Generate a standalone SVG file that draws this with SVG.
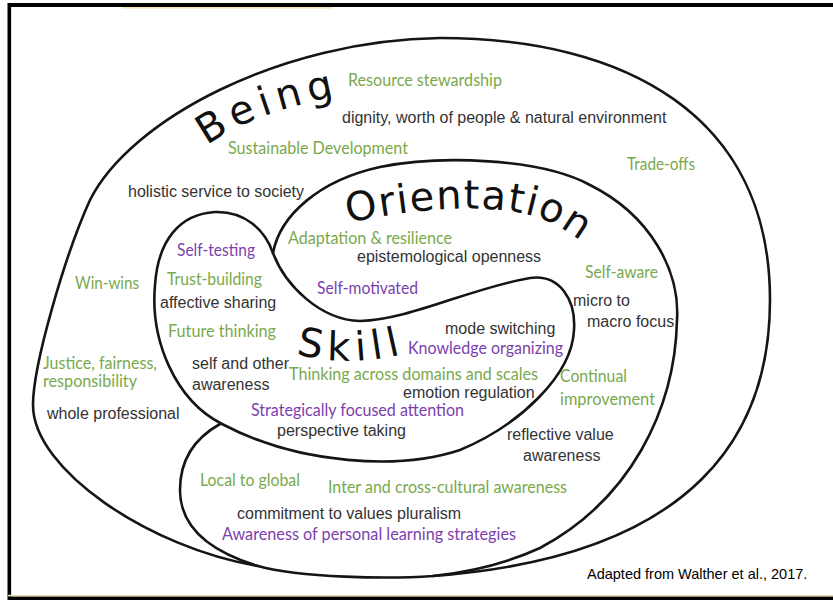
<svg xmlns="http://www.w3.org/2000/svg" width="833" height="600" viewBox="0 0 833 600">
<defs>
<style>
.ln{fill:none;stroke:#151515;stroke-width:2.6;stroke-linecap:round;stroke-linejoin:round}
.g{font-family:Lato,"Open Sans","Liberation Sans",sans-serif;font-size:17px;fill:#79a94c}
.p{font-family:Lato,"Open Sans","Liberation Sans",sans-serif;font-size:17px;fill:#7b3fad}
.d{font-family:"Liberation Sans",Arial,sans-serif;font-size:16px;fill:#333}
.big{font-family:"DejaVu Sans",sans-serif;font-size:40px;fill:#111}
</style>
<path id="pBeing" d="M 207,146 Q 250,112 350,94"/>
<path id="pOri" d="M 348,223 C 420,207 495,203 540,218 Q 565,227 600,256"/>
<path id="pSkill" d="M 296,354 Q 352,369 414,351"/>
</defs>
<rect x="0" y="0" width="833" height="600" fill="#fff"/>
<g id="frame">
<rect x="8" y="3" width="825" height="4" fill="#000"/>
<rect x="122" y="7" width="210" height="1.6" fill="#f3e6b4"/>
<rect x="7.5" y="3" width="3.6" height="597" fill="#000"/>
<rect x="8" y="594.8" width="825" height="1.8" fill="#ece0b0"/>
<rect x="8" y="596.6" width="825" height="3.4" fill="#000"/>
</g>
<g id="connectors">
<path class="ln" d="M 258,566 C 150,548 33,470 33,405 C 33,365 65,255 90,200 C 130,120 280,40 440,38 C 625,38 770,115 770,300 C 770,430 700,556 433,576"/>
<path class="ln" d="M 273,253 C 280,215 320,180 380,167 C 440,155 540,158 590,185 C 650,215 680,270 677,320 C 675,410 630,500 540,548 C 505,564 470,572 433,576 C 390,579 300,578 258,566 C 215,553 180,530 180,490 C 180,460 195,438 220,424"/>
<path class="ln" d="M 273,253 C 285,285 320,320 360,321 C 410,320 470,288 530,278 C 560,274 576,300 574,330 C 572,375 520,425 460,450 C 400,470 300,465 222,424 C 175,400 150,340 155,285 C 158,240 180,214 215,212 C 245,211 265,230 273,253 Z"/>
</g>
<g id="being">
<text class="big" letter-spacing="6"><textPath href="#pBeing">Being</textPath></text>
<text class="g" x="348" y="86" textLength="154" lengthAdjust="spacingAndGlyphs">Resource stewardship</text>
<text class="d" x="342" y="122.5">dignity, worth of people &amp; natural environment</text>
<text class="g" x="228" y="154" textLength="180" lengthAdjust="spacingAndGlyphs">Sustainable Development</text>
<text class="g" x="627" y="170" textLength="68" lengthAdjust="spacingAndGlyphs">Trade-offs</text>
<text class="d" x="128" y="196.5">holistic service to society</text>
<text class="g" x="75" y="289" textLength="64" lengthAdjust="spacingAndGlyphs">Win-wins</text>
<text class="g" x="43" y="368.5" textLength="114" lengthAdjust="spacingAndGlyphs">Justice, fairness,</text>
<text class="g" x="43" y="386.5" textLength="94" lengthAdjust="spacingAndGlyphs">responsibility</text>
<text class="d" x="47" y="419">whole professional</text>
</g>
<g id="orientation">
<text class="big" letter-spacing="1.5"><textPath href="#pOri">Orientation</textPath></text>
<text class="g" x="288" y="244" textLength="164" lengthAdjust="spacingAndGlyphs">Adaptation &amp; resilience</text>
<text class="d" x="357" y="262">epistemological openness</text>
<text class="p" x="317" y="294" textLength="101" lengthAdjust="spacingAndGlyphs">Self-motivated</text>
<text class="g" x="585" y="278" textLength="73" lengthAdjust="spacingAndGlyphs">Self-aware</text>
<text class="d" x="573" y="306">micro to</text>
<text class="d" x="587" y="327">macro focus</text>
<text class="g" x="560" y="382" textLength="67" lengthAdjust="spacingAndGlyphs">Continual</text>
<text class="g" x="560" y="405" textLength="95" lengthAdjust="spacingAndGlyphs">improvement</text>
<text class="d" x="507" y="440">reflective value</text>
<text class="d" x="523" y="461">awareness</text>
<text class="g" x="200" y="485.5" textLength="100" lengthAdjust="spacingAndGlyphs">Local to global</text>
<text class="g" x="328" y="493" textLength="239" lengthAdjust="spacingAndGlyphs">Inter and cross-cultural awareness</text>
<text class="d" x="237" y="518.5">commitment to values pluralism</text>
<text class="p" x="222" y="539.5" textLength="294" lengthAdjust="spacingAndGlyphs">Awareness of personal learning strategies</text>
</g>
<g id="skill">
<text class="big" letter-spacing="6"><textPath href="#pSkill">Skill</textPath></text>
<text class="p" x="177" y="255.5" textLength="78" lengthAdjust="spacingAndGlyphs">Self-testing</text>
<text class="g" x="167" y="284.5" textLength="95" lengthAdjust="spacingAndGlyphs">Trust-building</text>
<text class="d" x="160" y="307.5">affective sharing</text>
<text class="g" x="168" y="336.5" textLength="108" lengthAdjust="spacingAndGlyphs">Future thinking</text>
<text class="d" x="445" y="333.5">mode switching</text>
<text class="p" x="408" y="353.5" textLength="155" lengthAdjust="spacingAndGlyphs">Knowledge organizing</text>
<text class="d" x="192" y="369">self and other</text>
<text class="d" x="192" y="390">awareness</text>
<text class="g" x="289" y="380" textLength="249" lengthAdjust="spacingAndGlyphs">Thinking across domains and scales</text>
<text class="d" x="403" y="397.5">emotion regulation</text>
<text class="p" x="251" y="416" textLength="213" lengthAdjust="spacingAndGlyphs">Strategically focused attention</text>
<text class="d" x="277" y="436">perspective taking</text>
</g>
<g id="credit">
<text x="587" y="579" font-family="Liberation Sans, Arial, sans-serif" font-size="14.5" fill="#000">Adapted from Walther et al., 2017.</text>
</g>
</svg>
